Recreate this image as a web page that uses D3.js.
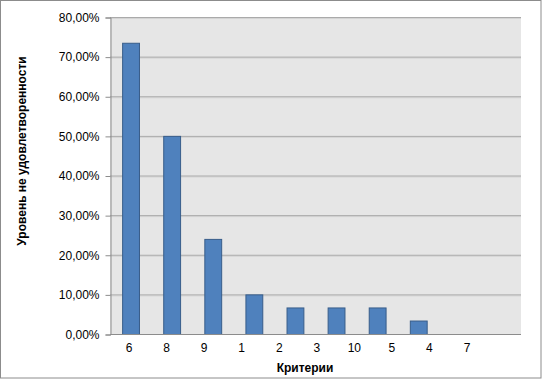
<!DOCTYPE html>
<html><head><meta charset="utf-8">
<script src="https://cdn.jsdelivr.net/npm/d3@7"></script>
<style>body{margin:0;background:#fff}svg{display:block}</style>
</head><body>
<svg id="c" width="542" height="379"></svg>
<script>
const categories = ["6","8","9","1","2","3","10","5","4","7"];
const values = [73.5, 50.0, 24.0, 10.0, 6.7, 6.7, 6.7, 3.4, 0, 0];
const yTicks = [0,10,20,30,40,50,60,70,80];
const yTitle = "Уровень не удовлетворенности";
const xTitle = "Критерии";

const svg = d3.select("#c");
const W = 542, H = 379;
const m = {l:110, r:521, t:17, b:334};
const font = "Liberation Sans, Arial, sans-serif";

svg.append("rect").attr("x",0.5).attr("y",0.5).attr("width",W-1.5).attr("height",H-1.5)
  .attr("fill","#fff").attr("stroke","#8c8c8c").attr("stroke-width",1);

const x = d3.scaleBand().domain(categories).range([m.l,m.r]).paddingInner(0.59).paddingOuter(0.295);
const y = d3.scaleLinear().domain([0,80]).range([m.b,m.t]);
// label positions (Excel places them compressed)
const xl = d3.scalePoint().domain(categories).range([129,467]);

svg.append("rect").attr("x",m.l).attr("y",m.t).attr("width",m.r-m.l).attr("height",m.b-m.t).attr("fill","#e6e6e6");

// gridlines
const g = svg.append("g");
g.selectAll("line.s").data(yTicks.filter(d=>d>0)).join("line")
  .attr("x1",m.l).attr("x2",m.r).attr("y1",d=>y(d)+1.5).attr("y2",d=>y(d)+1.5)
  .attr("stroke","#d4d4d4").attr("stroke-width",1);
g.selectAll("line.g").data(yTicks.filter(d=>d>0)).join("line")
  .attr("x1",m.l).attr("x2",m.r).attr("y1",d=>y(d)+0.5).attr("y2",d=>y(d)+0.5)
  .attr("stroke","#aaaaaa").attr("stroke-width",1);

// bars
svg.append("g").selectAll("rect").data(values.map((v,i)=>({c:categories[i],v})).filter(d=>d.v>0)).join("rect")
  .attr("x",d=>x(d.c)+0.5).attr("width",x.bandwidth())
  .attr("y",d=>y(d.v)+0.5).attr("height",d=>m.b-y(d.v))
  .attr("fill","#4f81bd").attr("stroke","#385d8a").attr("stroke-width",1);

// y axis
const ya = svg.append("g").attr("transform",`translate(${m.l+0.5},0.5)`)
  .call(d3.axisLeft(y).tickValues(yTicks).tickSize(5).tickPadding(6)
    .tickFormat(d=>d.toFixed(2).replace(".",",")+"%"));
ya.select(".domain").attr("stroke","#8c8c8c");
ya.selectAll(".tick line").attr("stroke","#8c8c8c");
ya.selectAll(".tick text").attr("font-family",font).attr("font-size",12).attr("fill","#000");

// x axis line
svg.append("line").attr("x1",m.l).attr("x2",m.r).attr("y1",m.b+0.5).attr("y2",m.b+0.5).attr("stroke","#8c8c8c");

// x labels
svg.append("g").selectAll("text").data(categories).join("text")
  .attr("x",d=>xl(d)).attr("y",352).attr("text-anchor","middle")
  .attr("font-family",font).attr("font-size",12).text(d=>d);

svg.append("text").attr("x",305).attr("y",372).attr("text-anchor","middle")
  .attr("font-family",font).attr("font-size",12).attr("font-weight","bold").text(xTitle);
svg.append("text").attr("transform","translate(26,151) rotate(-90)").attr("text-anchor","middle")
  .attr("font-family",font).attr("font-size",12).attr("font-weight","bold").text(yTitle);
</script>
</body></html>
